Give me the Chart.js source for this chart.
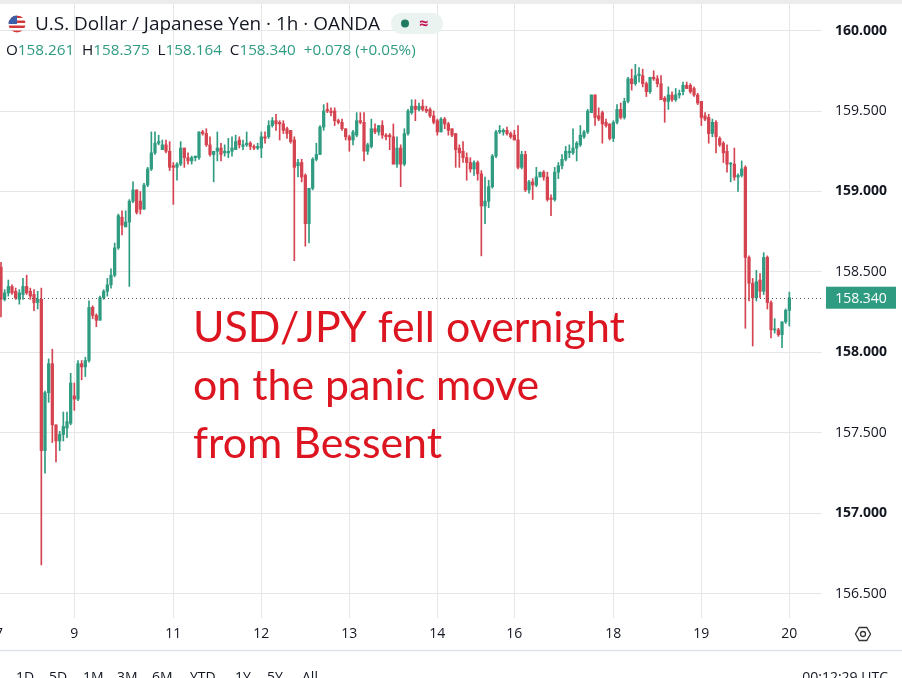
<!DOCTYPE html>
<html>
<head>
<meta charset="utf-8">
<script src="https://cdn.jsdelivr.net/npm/chart.js@4.4.1/dist/chart.umd.min.js"></script>
<style>
  html, body { margin: 0; padding: 0; background: #fff; }
  #wrap { width: 902px; height: 678px; }
</style>
</head>
<body>
<div id="wrap"><canvas id="myChart" width="902" height="678"></canvas></div>
<script>
// USD/JPY 1h candles, bar 0 is the one cut off at the left edge
var opens = [
  158.53,158.33,158.37,158.41,158.38,158.33,158.36,158.41,158.38,158.36,
  158.31,158.33,157.39,157.75,157.93,157.55,157.45,157.49,157.53,157.56,
  157.73,157.71,157.93,157.91,157.95,158.28,158.23,158.20,158.34,158.38,
  158.42,158.48,158.65,158.84,158.78,158.81,158.94,159.01,158.94,158.89,
  159.04,159.14,159.24,159.30,159.26,159.29,159.25,159.16,159.15,159.17,
  159.27,159.21,159.19,159.21,159.21,159.37,159.36,159.29,159.23,159.25,
  159.27,159.24,159.24,159.25,159.26,159.32,159.28,159.29,159.30,159.28,
  159.27,159.27,159.34,159.34,159.41,159.44,159.43,159.42,159.39,159.38,
  159.32,159.16,159.18,159.10,158.80,159.02,159.20,159.23,159.40,159.51,
  159.50,159.50,159.44,159.43,159.39,159.34,159.32,159.35,159.44,159.43,
  159.25,159.28,159.39,159.37,159.41,159.35,159.35,159.34,159.17,159.27,
  159.17,159.36,159.49,159.53,159.51,159.53,159.51,159.51,159.47,159.44,
  159.37,159.45,159.42,159.39,159.36,159.27,159.25,159.21,159.18,159.14,
  159.18,159.11,158.91,158.94,159.03,159.22,159.37,159.37,159.38,159.36,
  159.35,159.32,159.15,159.23,159.01,159.06,159.04,159.09,159.12,159.09,
  158.96,158.95,159.12,159.16,159.20,159.24,159.24,159.27,159.29,159.34,
  159.37,159.49,159.60,159.47,159.49,159.43,159.42,159.33,159.43,159.51,
  159.46,159.56,159.70,159.67,159.72,159.72,159.67,159.62,159.71,159.70,
  159.67,159.58,159.56,159.60,159.57,159.60,159.62,159.66,159.66,159.64,
  159.60,159.56,159.47,159.46,159.36,159.43,159.33,159.30,159.25,159.17,
  159.17,159.09,159.10,159.15,158.59,158.43,158.34,158.45,158.38,158.59,
  158.31,158.14,158.14,158.11,158.19,158.261
];
var highs = [
  158.56,158.39,158.45,158.42,158.40,158.39,158.46,158.48,158.40,158.39,
  158.38,158.40,157.76,157.96,158.02,157.55,157.51,157.63,157.63,157.87,
  157.81,157.95,157.95,157.97,158.32,158.29,158.24,158.35,158.39,158.46,
  158.52,158.68,158.86,158.88,158.88,158.95,159.06,159.01,159.00,159.05,
  159.15,159.37,159.37,159.35,159.32,159.32,159.31,159.18,159.18,159.31,
  159.27,159.24,159.22,159.22,159.37,159.38,159.39,159.34,159.25,159.37,
  159.30,159.29,159.33,159.34,159.35,159.34,159.32,159.37,159.31,159.29,
  159.30,159.37,159.37,159.44,159.46,159.48,159.44,159.44,159.40,159.38,
  159.34,159.20,159.20,159.11,159.02,159.21,159.30,159.41,159.54,159.55,
  159.52,159.52,159.45,159.45,159.39,159.35,159.38,159.49,159.49,159.49,
  159.30,159.45,159.42,159.41,159.44,159.36,159.36,159.42,159.34,159.29,
  159.39,159.51,159.57,159.57,159.55,159.57,159.53,159.52,159.50,159.45,
  159.46,159.46,159.43,159.39,159.36,159.29,159.31,159.24,159.21,159.19,
  159.19,159.13,159.09,159.07,159.23,159.38,159.41,159.39,159.40,159.37,
  159.38,159.41,159.25,159.25,159.07,159.08,159.15,159.12,159.13,159.12,
  158.98,159.15,159.18,159.23,159.28,159.29,159.39,159.31,159.41,159.38,
  159.51,159.60,159.60,159.52,159.50,159.45,159.42,159.44,159.54,159.55,
  159.58,159.71,159.76,159.79,159.77,159.76,159.68,159.71,159.75,159.72,
  159.72,159.59,159.65,159.62,159.64,159.63,159.68,159.68,159.67,159.65,
  159.61,159.56,159.49,159.48,159.45,159.44,159.34,159.31,159.29,159.18,
  159.27,159.11,159.19,159.16,158.60,158.46,158.51,158.49,158.62,158.60,
  158.32,158.21,158.15,158.19,158.27,158.375
];
var lows = [
  158.22,158.32,158.35,158.36,158.33,158.30,158.33,158.36,158.33,158.26,
  158.27,156.68,157.25,157.69,157.44,157.32,157.39,157.45,157.47,157.55,
  157.64,157.70,157.83,157.85,157.94,158.21,158.16,158.20,158.33,158.35,
  158.40,158.47,158.64,158.73,158.78,158.41,158.93,158.86,158.86,158.89,
  159.03,159.13,159.23,159.29,159.26,159.24,159.13,158.92,159.07,159.16,
  159.15,159.17,159.17,159.19,159.20,159.35,159.28,159.22,159.06,159.19,
  159.19,159.22,159.21,159.22,159.26,159.27,159.26,159.28,159.26,159.26,
  159.26,159.21,159.30,159.33,159.40,159.38,159.32,159.36,159.33,159.30,
  158.57,159.09,159.06,158.66,158.68,159.01,159.19,159.23,159.38,159.49,
  159.47,159.41,159.42,159.38,159.32,159.25,159.29,159.34,159.42,159.19,
  159.23,159.27,159.36,159.35,159.33,159.32,159.26,159.17,159.15,159.03,
  159.16,159.35,159.48,159.44,159.50,159.50,159.49,159.46,159.42,159.35,
  159.37,159.39,159.35,159.34,159.15,159.15,159.18,159.07,159.12,159.10,
  159.07,158.60,158.80,158.90,159.02,159.21,159.36,159.35,159.35,159.33,
  159.32,159.14,159.14,159.00,158.99,158.95,159.03,159.09,159.07,158.94,
  158.85,158.94,159.08,159.14,159.19,159.21,159.23,159.19,159.28,159.33,
  159.36,159.49,159.41,159.44,159.30,159.40,159.32,159.31,159.42,159.45,
  159.45,159.55,159.63,159.66,159.68,159.65,159.59,159.61,159.69,159.65,
  159.57,159.43,159.51,159.56,159.56,159.58,159.60,159.64,159.61,159.59,
  159.54,159.41,159.44,159.30,159.34,159.24,159.28,159.18,159.12,159.06,
  159.07,159.00,159.09,158.15,158.32,158.04,158.32,158.34,158.36,158.27,
  158.09,158.12,158.10,158.03,158.18,158.164
];
var closes = [
  158.33,158.37,158.41,158.37,158.34,158.37,158.41,158.37,158.35,158.31,
  158.33,157.39,157.75,157.93,157.55,157.45,157.49,157.54,157.57,157.81,
  157.71,157.93,157.91,157.95,158.28,158.23,158.20,158.34,158.38,158.42,
  158.48,158.65,158.85,158.79,158.81,158.94,159.01,158.87,158.89,159.04,
  159.14,159.24,159.30,159.31,159.29,159.25,159.15,159.15,159.17,159.27,
  159.21,159.19,159.21,159.22,159.37,159.36,159.29,159.23,159.25,159.27,
  159.23,159.25,159.25,159.27,159.31,159.29,159.29,159.30,159.28,159.27,
  159.28,159.34,159.33,159.41,159.44,159.42,159.42,159.38,159.36,159.31,
  159.15,159.18,159.09,158.80,159.02,159.20,159.23,159.40,159.50,159.50,
  159.49,159.44,159.43,159.39,159.34,159.32,159.37,159.44,159.43,159.25,
  159.29,159.39,159.37,159.41,159.35,159.34,159.34,159.17,159.27,159.17,
  159.36,159.50,159.53,159.51,159.53,159.51,159.50,159.47,159.43,159.37,
  159.45,159.42,159.38,159.35,159.26,159.24,159.21,159.18,159.14,159.18,
  159.11,158.91,158.94,159.03,159.22,159.37,159.38,159.38,159.36,159.34,
  159.32,159.15,159.23,159.01,159.06,159.04,159.09,159.12,159.09,158.95,
  158.95,159.12,159.16,159.20,159.25,159.25,159.27,159.30,159.35,159.37,
  159.50,159.60,159.46,159.45,159.42,159.41,159.33,159.43,159.51,159.46,
  159.56,159.70,159.67,159.72,159.73,159.67,159.62,159.71,159.70,159.67,
  159.57,159.56,159.60,159.57,159.60,159.61,159.66,159.64,159.62,159.60,
  159.55,159.46,159.45,159.36,159.43,159.34,159.29,159.24,159.17,159.175,
  159.09,159.10,159.14,158.59,158.43,158.34,158.44,158.38,158.59,158.31,
  158.14,158.145,158.11,158.19,158.262,158.340
];
// day labels on the time axis and the bar they sit on
var dayTicks = [20, 47, 71, 95, 119, 140, 167, 191, 215];
var dayLabels = ['9', '11', '12', '13', '14', '16', '18', '19', '20'];
var priceTicks = [156.5, 157, 157.5, 158, 158.5, 159, 159.5, 160];
var rangeButtons = ['1D', '5D', '1M', '3M', '6M', 'YTD', '1Y', '5Y', 'All'];
var noteLines = ['USD/JPY fell overnight', 'on the panic move', 'from Bessent'];

var UP = '#2f9c82', DOWN = '#d4434f', TXT = '#131722', GRID = '#e6e6e6';
var UI = "'Open Sans', sans-serif";

var bodies = [], wicks = [], colors = [];
for (var i = 0; i < closes.length; i++) {
  bodies.push({ x: i, y: [opens[i], closes[i]] });
  wicks.push({ x: i, y: [lows[i], highs[i]] });
  colors.push(closes[i] >= opens[i] ? UP : DOWN);
}
var last = closes.length - 1;

// shrink/grow a font so text fills a given width
function fitSize(c, text, family, weight, width) {
  c.font = weight + ' 100px ' + family;
  return 100 * width / c.measureText(text).width;
}

// no label padding, the plot should run edge to edge
function noPad(s) {
  s.paddingTop = 0; s.paddingBottom = 0; s.paddingLeft = 0; s.paddingRight = 0;
}

var overlay = {
  id: 'overlay',
  beforeDraw: function (chart) {
    var c = chart.ctx;
    c.save();
    c.fillStyle = '#fff';
    c.fillRect(0, 0, chart.width, chart.height);
    c.fillStyle = '#ececec';
    c.fillRect(0, 0, chart.width, 4);
    c.restore();
  },
  afterDraw: function (chart) {
    var c = chart.ctx, area = chart.chartArea;
    var y = chart.scales.y.getPixelForValue(closes[last]);
    c.save();

    // last price line + label
    c.strokeStyle = '#555';
    c.lineWidth = 1;
    c.setLineDash([1, 3]);
    c.beginPath();
    c.moveTo(area.left, Math.round(y) + 0.5);
    c.lineTo(area.right, Math.round(y) + 0.5);
    c.stroke();
    c.setLineDash([]);
    c.fillStyle = UP;
    c.fillRect(826, y - 11, 70, 22);
    c.fillStyle = '#fff';
    c.font = '14px ' + UI;
    c.textAlign = 'center';
    c.textBaseline = 'middle';
    c.fillText(closes[last].toFixed(3), 861, y + 1);

    // partial "7" at left edge of time axis
    c.fillStyle = TXT;
    c.fillText('7', -1, 634);

    // settings icon
    c.strokeStyle = '#333';
    c.lineWidth = 1.3;
    c.beginPath();
    for (var k = 0; k < 6; k++) {
      var a = Math.PI / 3 * k;
      var px = 863 + 7.5 * Math.cos(a), py = 634 + 7.5 * Math.sin(a);
      if (k === 0) c.moveTo(px, py); else c.lineTo(px, py);
    }
    c.closePath();
    c.stroke();
    c.beginPath();
    c.arc(863, 634, 2.5, 0, Math.PI * 2);
    c.stroke();

    // bottom toolbar
    c.strokeStyle = '#e0e3eb';
    c.beginPath();
    c.moveTo(0, 650.5);
    c.lineTo(chart.width, 650.5);
    c.stroke();
    c.font = '14px ' + UI;
    c.textBaseline = 'alphabetic';
    c.textAlign = 'left';
    c.fillStyle = TXT;
    var bx = [16, 49, 83, 117, 152, 190, 235, 267, 302];
    rangeButtons.forEach(function (t, j) { c.fillText(t, bx[j], 682); });
    c.textAlign = 'right';
    c.fillText('00:12:29 UTC', 888, 682);

    // header: flag, title, status pill
    c.save();
    c.beginPath();
    c.arc(17, 24, 8.5, 0, Math.PI * 2);
    c.clip();
    for (var s = 0; s < 7; s++) {
      c.fillStyle = s % 2 ? '#fff' : '#d23a3a';
      c.fillRect(8, 15.5 + s * 2.5, 18, 2.5);
    }
    c.fillStyle = '#3c5fa8';
    c.fillRect(8, 15, 9, 9);
    c.restore();
    var title = 'U.S. Dollar / Japanese Yen \u00b7 1h \u00b7 OANDA';
    c.textAlign = 'left';
    c.fillStyle = TXT;
    c.font = fitSize(c, title, UI, 'normal', 345) + 'px ' + UI;
    c.fillText(title, 35, 30);
    c.fillStyle = '#eaf3ef';
    c.beginPath();
    c.roundRect(391, 13, 52, 21, 10);
    c.fill();
    c.fillStyle = '#1f7a62';
    c.beginPath();
    c.arc(405, 23.5, 4, 0, Math.PI * 2);
    c.fill();
    c.fillStyle = '#c2185b';
    c.font = 'bold 16px ' + UI;
    c.fillText('\u2248', 419, 29);

    // OHLC line
    var chg = closes[last] - closes[last - 1];
    var pct = chg / closes[last - 1] * 100;
    var segs = [
      ['O', TXT], [opens[last].toFixed(3), UP],
      ['  H', TXT], [highs[last].toFixed(3), UP],
      ['  L', TXT], [lows[last].toFixed(3), UP],
      ['  C', TXT], [closes[last].toFixed(3), UP],
      ['  +' + chg.toFixed(3) + ' (+' + pct.toFixed(2) + '%)', UP]
    ];
    var full = segs.map(function (p) { return p[0]; }).join('');
    c.font = fitSize(c, full, UI, 'normal', 410) + 'px ' + UI;
    var x = 6;
    segs.forEach(function (p) {
      c.fillStyle = p[1];
      c.fillText(p[0], x, 55);
      x += c.measureText(p[0]).width;
    });

    // annotation
    var fam = "Lato, 'Open Sans', sans-serif";
    c.fillStyle = '#dc1520';
    c.font = fitSize(c, noteLines[0], fam, 'normal', 432) + 'px ' + fam;
    noteLines.forEach(function (t, j) { c.fillText(t, 193, 342 + j * 58); });

    c.restore();
  }
};

var ctx = document.getElementById('myChart').getContext('2d');
var chart = new Chart(ctx, {
  type: 'bar',
  data: {
    datasets: [
      { data: bodies, backgroundColor: colors, barThickness: 2.6, minBarLength: 1, grouped: false },
      { data: wicks, backgroundColor: colors, barThickness: 1, grouped: false }
    ]
  },
  options: {
    responsive: false,
    animation: false,
    layout: { padding: { top: 4, bottom: 28, left: 0, right: 0 } },
    plugins: { legend: { display: false }, tooltip: { enabled: false } },
    scales: {
      x: {
        type: 'linear',
        offset: false,
        min: -0.27,
        max: 223.9,
        afterBuildTicks: function (s) { s.ticks = dayTicks.map(function (v) { return { value: v }; }); },
        afterFit: function (s) { s.height = 32; noPad(s); },
        grid: { color: GRID, drawTicks: false, offset: false },
        border: { display: false },
        ticks: {
          autoSkip: false,
          maxRotation: 0,
          padding: 8,
          color: TXT,
          font: { family: UI, size: 14 },
          callback: function (v, idx) { return dayLabels[idx]; }
        }
      },
      y: {
        position: 'right',
        min: 156.35,
        max: 160.165,
        afterBuildTicks: function (s) { s.ticks = priceTicks.map(function (v) { return { value: v }; }); },
        afterFit: function (s) { s.width = 80; noPad(s); },
        grid: { color: GRID, drawTicks: false },
        border: { display: false },
        ticks: {
          padding: 13,
          color: TXT,
          font: function (c) {
            var whole = c.tick && c.tick.value % 1 === 0;
            return { family: UI, size: 14, weight: whole ? 'bold' : 'normal' };
          },
          callback: function (v) { return Number(v).toFixed(3); }
        }
      }
    }
  },
  plugins: [overlay]
});
</script>
</body>
</html>
